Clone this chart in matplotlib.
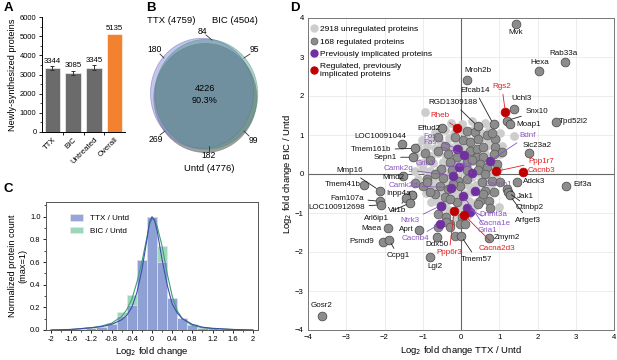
import numpy as np
import matplotlib
matplotlib.use("Agg")
import matplotlib.pyplot as plt
from matplotlib.patches import Ellipse
from matplotlib.lines import Line2D
from matplotlib.ticker import MultipleLocator, FuncFormatter

plt.rcParams['font.family'] = ['Liberation Sans', 'DejaVu Sans']
plt.rcParams['axes.linewidth'] = 0.7

# ====== Panel A data ======
a_groups = ["TTX", "BIC", "Untreated", "Overall"]
a_counts = [3344, 3085, 3345, 5135]
a_err = [110, 120, 130, 0]

# ====== Panel B data (Venn counts) ======
venn_sets = ["TTX (4759)", "BIC (4504)", "Untd (4776)"]
venn_counts = {"ttx_bic": 84, "ttx_only": 180, "bic_only": 95, "all": 4226,
               "ttx_untd": 269, "bic_untd": 99, "untd_only": 182}
venn_pct = 90.3

# ====== Panel C data ======
bin_centers = [-1.6, -1.4, -1.2, -1.0, -0.8, -0.6, -0.4, -0.2, 0.0, 0.2, 0.4, 0.6, 0.8, 1.0, 1.2, 1.4]
ttx_hist = [0.005, 0.01, 0.02, 0.03, 0.05, 0.12, 0.22, 0.62, 1.0, 0.60, 0.28, 0.11, 0.04, 0.02, 0.015, 0.005]
bic_hist = [0.005, 0.01, 0.025, 0.035, 0.065, 0.155, 0.31, 0.62, 1.0, 0.745, 0.27, 0.10, 0.05, 0.02, 0.012, 0.004]
curve_x = [-2.0, -1.6, -1.2, -1.0, -0.8, -0.6, -0.5, -0.4, -0.3, -0.2, -0.1, -0.05, 0.0,
           0.05, 0.1, 0.2, 0.3, 0.4, 0.5, 0.6, 0.8, 1.0, 1.2, 1.6, 2.0]
ttx_curve = [0.0, 0.005, 0.02, 0.03, 0.05, 0.09, 0.13, 0.2, 0.33, 0.53, 0.80, 0.95, 1.0,
             0.97, 0.88, 0.62, 0.40, 0.23, 0.15, 0.10, 0.05, 0.025, 0.015, 0.005, 0.0]
bic_curve = [0.0, 0.005, 0.02, 0.035, 0.06, 0.12, 0.18, 0.27, 0.42, 0.60, 0.82, 0.93, 0.98,
             0.97, 0.92, 0.74, 0.50, 0.30, 0.17, 0.10, 0.04, 0.02, 0.012, 0.004, 0.0]

# ====== Panel D data ======
unreg_x = [-0.25, 0.02, 0.28, 0.62, -0.95, 1.39, 1.0,
           -0.68, -0.42, -0.18, 0.05, 0.31, 0.52, 0.74, 1.02,
           -1.02, -0.78, -0.58, -0.31, -0.12, 0.12, 0.33, 0.55, 0.72, 0.92,
           -1.12, -0.88, -0.69, -0.49, -0.28, -0.09, 0.11, 0.29, 0.51, 0.69, 0.88, 1.08,
           -1.21, -0.98, -0.79, -0.61, -0.38, -0.19, 0.02, 0.21, 0.39, 0.62, 0.81, 1.01,
           -1.08, -0.91, -0.72, -0.48, -0.31, -0.08, 0.12, 0.31, 0.48, 0.71, 0.89,
           -1.19, -0.99, -0.82, -0.58, -0.41, -0.18, 0.03, 0.19, 0.42, 0.58, 0.79, 0.98,
           -1.12, -0.88, -0.71, -0.52, -0.28, -0.11, 0.12, 0.28, 0.51, 0.68, 0.91,
           -1.02, -0.78, -0.62, -0.38, -0.21, 0.02, 0.21, 0.38, 0.62, 0.78,
           -0.92, -0.68, -0.52, -0.28, -0.12, 0.11, 0.28, 0.51, 0.69,
           -0.78, -0.62, -0.38, -0.18, 0.02, 0.22, 0.41,
           -0.52, -0.31, -0.08, 0.12, 0.31,
           -0.41, -0.12, 0.18]
unreg_y = [1.32, 1.28, 1.35, 1.30, 1.58, 0.98, -0.84,
           1.08, 1.12, 1.05, 1.10, 1.14, 1.06, 1.12, 1.04,
           0.88, 0.92, 0.86, 0.93, 0.88, 0.95, 0.87, 0.93, 0.85, 0.90,
           0.68, 0.72, 0.66, 0.74, 0.68, 0.71, 0.66, 0.73, 0.67, 0.72, 0.65, 0.71,
           0.48, 0.52, 0.46, 0.53, 0.47, 0.52, 0.46, 0.54, 0.48, 0.51, 0.45, 0.52,
           0.28, 0.33, 0.27, 0.32, 0.26, 0.31, 0.27, 0.33, 0.28, 0.31, 0.26,
           0.08, 0.12, 0.07, 0.11, 0.06, 0.12, 0.07, 0.12, 0.06, 0.11, 0.08, 0.12,
           -0.12, -0.08, -0.13, -0.07, -0.12, -0.08, -0.11, -0.07, -0.12, -0.08, -0.11,
           -0.31, -0.28, -0.33, -0.27, -0.32, -0.28, -0.31, -0.27, -0.32, -0.28,
           -0.48, -0.52, -0.47, -0.53, -0.48, -0.52, -0.47, -0.52, -0.49,
           -0.71, -0.68, -0.72, -0.67, -0.72, -0.68, -0.71,
           -0.88, -0.92, -0.88, -0.91, -0.87,
           -1.08, -1.12, -1.06]

reg_x = [0.15, 0.37, 0.06, 0.24, 0.45, 0.67, 0.89, -0.07, 0.24, 0.41, 0.58, 0.89, 1.06,
         -0.42, -0.59, -0.33, -0.11, 0.41, 0.58, 0.85, -0.29, 0.15, 0.50, 0.67, 0.93,
         -0.51, -0.24, 0.15, 0.45, 0.63, -0.68, -0.46, -0.07, 0.15, 0.54, 0.80, 1.02,
         -0.55, -0.33, -0.03, 0.63, 0.85, -0.68, -0.42, -0.11, 0.50, 0.72, -0.51, 0.02,
         -0.90, -0.99, -0.81, -1.20, -0.90, -0.29, -0.59, -0.38, -0.29, -0.59, -0.03,
         0.10, -0.16, -0.38, -0.29, 0.58, 0.76, 0.45, -0.20, -0.80, -0.95, 0.30, -0.15,
         -0.60, 0.80, -1.28]
reg_y = [1.11, 1.07, 0.86, 0.81, 0.90, 0.99, 0.90, 0.64, 0.60, 0.64, 0.69, 0.69, 0.56,
         0.73, 0.60, 0.51, 0.43, 0.43, 0.43, 0.51, 0.30, 0.30, 0.26, 0.17, 0.26,
         0.13, 0.09, 0.09, 0.09, 0.0, 0.0, -0.09, -0.17, -0.13, -0.21, -0.17, -0.21,
         -0.30, -0.39, -0.30, -0.43, -0.47, -0.51, -0.60, -0.73, -0.69, -0.69, -0.81, -1.11,
         -0.13, -0.30, -0.47, -0.24, -0.21, -0.64, -1.03, -1.11, -1.29, -1.37, -1.29,
         -1.29, -1.59, -1.24, -1.37, -0.51, -0.86, -0.77, -0.26, 0.35, 0.55, 0.35, 0.95,
         0.95, 1.05, -0.55]

# labelled proteins: kind 0 = regulated, 1 = previously implicated, 2 = regulated & implicated
gene_names = ["Mvk", "Rab33a", "Hexa", "Mroh2b", "Efcab14", "Rgs2", "Uchl3", "Snx10", "Moap1",
              "Tpd52l2", "RGD1309188", "Rheb", "Eftud2", "LOC10091044", "Tmem161b", "Sepn1",
              "Fos", "Fas", "Grin1", "Ntrk2", "Camk2g", "Mmd2", "Mmp16", "Camk2d", "Tmem41b",
              "Inpp4a", "Fam107a", "LOC100912698", "Vti1b", "Arl6ip1", "Maea", "Ntrk3", "Aprt",
              "Cacnb4", "Psmd9", "Ccpg1", "Ddx50", "Lgi2", "Ppp6r3", "Tmem57", "Cacna2d3",
              "Zmym2", "Gria1", "Cacna1e", "Dnmt3a", "Cacnb1", "Adck3", "Eif3a", "Jak1",
              "Cttnbp2", "Arfgef3", "Bdnf", "Slc23a2", "Ppp1r7", "Cacnb3", "Gosr2"]
gene_x = [1.44, 2.72, 2.05, 0.15, 0.85, 1.16, 1.39, 1.20, 1.28,
          2.48, 0.44, -0.11, -0.49, -1.55, -1.20, -1.25,
          -0.11, 0.08, -0.05, 0.28, -0.20, -1.52, -2.12, -0.25, -2.53,
          -1.28, -2.12, -2.09, -1.45, -1.33, -1.90, -0.53, -1.09,
          -0.55, -2.05, -1.88, -0.64, -0.81, -0.18, 0.0, 0.08,
          0.72, 0.06, 0.15, 0.24, 0.37, 1.46, 2.74, 1.20,
          1.23, 1.27, 0.76, 1.79, 0.92, 1.63, -3.63]
gene_y = [3.84, 2.87, 2.63, 2.42, 1.27, 1.58, 1.67, 1.37, 1.27,
          1.33, 1.22, 1.18, 1.17, 0.77, 0.66, 0.43,
          0.64, 0.49, 0.17, 0.03, -0.05, -0.04, -0.43, -0.35, -0.28,
          -0.55, -0.70, -0.79, -0.62, -0.74, -1.39, -0.81, -1.43,
          -1.28, -1.74, -1.69, -1.61, -2.14, -0.96, -1.59, -1.05,
          -1.63, -0.56, -0.86, -0.97, -0.43, -0.20, -0.30, -0.39,
          -0.47, -0.55, 0.34, 0.54, 0.07, 0.06, -3.64]
gene_kind = [0, 0, 0, 0, 0, 2, 0, 0, 0,
             0, 0, 2, 0, 0, 0, 0,
             1, 1, 1, 1, 1, 0, 0, 1, 0,
             0, 0, 0, 0, 0, 0, 1, 0,
             1, 0, 0, 0, 0, 2, 0, 2,
             0, 1, 1, 1, 1, 0, 0, 0,
             0, 0, 1, 0, 2, 2, 0]

# label layout (text position, leader line yes/no)
label_pos = {
    "Mvk": (1.44, 3.62, 0), "Rab33a": (2.68, 3.10, 0), "Hexa": (2.05, 2.86, 0),
    "Mroh2b": (0.43, 2.65, 0), "Efcab14": (0.37, 2.14, 1), "Rgs2": (1.07, 2.24, 1),
    "Uchl3": (1.59, 1.93, 0), "Snx10": (1.98, 1.60, 1), "Moap1": (1.76, 1.27, 0),
    "Tpd52l2": (2.95, 1.35, 0), "RGD1309188": (-0.20, 1.83, 1), "Rheb": (-0.55, 1.50, 1),
    "Eftud2": (-0.85, 1.17, 0), "LOC10091044": (-2.12, 0.97, 0), "Tmem161b": (-2.36, 0.62, 1),
    "Sepn1": (-1.99, 0.43, 1), "Fos": (-0.81, 0.97, 1), "Fas": (-0.81, 0.80, 1),
    "Grin1": (-0.92, 0.27, 1), "Ntrk2": (0.06, 0.21, 1), "Camk2g": (-1.64, 0.14, 1),
    "Mmd2": (-1.77, -0.10, 0), "Mmp16": (-2.90, 0.08, 1), "Camk2d": (-1.51, -0.30, 1),
    "Tmem41b": (-3.08, -0.28, 0), "Inpp4a": (-1.64, -0.51, 0), "Fam107a": (-2.98, -0.62, 1),
    "LOC100912698": (-3.25, -0.87, 1), "Vti1b": (-1.68, -0.94, 1), "Arl6ip1": (-2.21, -1.13, 1),
    "Maea": (-2.34, -1.39, 0), "Ntrk3": (-1.34, -1.20, 1), "Aprt": (-1.42, -1.43, 0),
    "Cacnb4": (-1.20, -1.65, 1), "Psmd9": (-2.60, -1.73, 0), "Ccpg1": (-1.64, -2.10, 1),
    "Ddx50": (-0.62, -1.80, 0), "Lgi2": (-0.68, -2.38, 0), "Ppp6r3": (-0.31, -2.02, 1),
    "Tmem57": (0.41, -2.19, 1), "Cacna2d3": (0.95, -1.90, 1), "Zmym2": (1.20, -1.63, 0),
    "Gria1": (0.70, -1.46, 1), "Cacna1e": (0.89, -1.26, 1), "Dnmt3a": (0.85, -1.05, 1),
    "Cacnb1": (0.98, -0.26, 1), "Adck3": (1.90, -0.19, 0), "Eif3a": (3.18, -0.28, 0),
    "Jak1": (1.68, -0.58, 1), "Cttnbp2": (1.79, -0.87, 1), "Arfgef3": (1.76, -1.18, 1),
    "Bdnf": (1.74, 0.98, 1), "Slc23a2": (1.98, 0.74, 0), "Ppp1r7": (2.09, 0.32, 1),
    "Cacnb3": (2.11, 0.10, 1), "Gosr2": (-3.65, -3.37, 0),
}

light_c = "#cdcdcd"
dark_c = "#8c8c8c"
purple_c = "#7030a0"
red_c = "#c00000"
text_c = ["#111111", "#8a55c0", "#e02020"]
dot_c = [dark_c, purple_c, red_c]

fig = plt.figure(figsize=(6.17, 3.6), dpi=100)
W, H = 617, 360


def frac(l, t, r, b):
    return [l / W, 1 - b / H, (r - l) / W, (b - t) / H]


# ====== A ======
axA = fig.add_axes(frac(42, 17, 125, 132))
xs = np.arange(len(a_groups))
colors = ["#6b6b6b"] * 3 + ["#f28230"]
axA.bar(xs, a_counts, width=0.74, color=colors, edgecolor="white", linewidth=0.4)
axA.errorbar(xs[:3], a_counts[:3], yerr=a_err[:3], fmt="none", ecolor="#333333",
             elinewidth=0.7, capsize=1.5, capthick=0.7)
for i, v in enumerate(a_counts):
    axA.text(xs[i], v + a_err[i] + 60, str(v), ha="center", va="bottom", fontsize=5.6)
axA.set_xlim(-0.5, 3.5)
axA.set_ylim(0, 6000)
axA.yaxis.set_major_locator(MultipleLocator(1000))
axA.yaxis.set_minor_locator(MultipleLocator(500))
axA.set_xticks(xs)
axA.set_xticklabels(a_groups, rotation=45, ha="right", rotation_mode="anchor", fontsize=5.6)
axA.set_xticks([0.5, 1.5, 2.5], minor=True)
axA.tick_params(axis="x", which="major", length=0, pad=3)
axA.tick_params(axis="x", which="minor", length=2.5, width=0.6)
axA.tick_params(axis="y", labelsize=5.4, length=2.5, width=0.6, pad=1.5)
axA.tick_params(axis="y", which="minor", length=1.5, width=0.5)
axA.spines["top"].set_visible(False)
axA.spines["right"].set_visible(False)
axA.set_ylabel("Newly-synthesized proteins", fontsize=6.6, labelpad=2)

# ====== B ======
axB = fig.add_axes(frac(135, 10, 275, 178))
axB.set_xlim(135, 275)
axB.set_ylim(178, 10)
axB.axis("off")
axB.add_patch(Ellipse((205.3, 98), 103, 109, facecolor="#606060", alpha=0.6,
                      edgecolor="#777777", lw=0.6))
axB.add_patch(Ellipse((202, 93.3), 103, 110, facecolor="#8c8cd8", alpha=0.5,
                      edgecolor="#6a6ac0", lw=0.6))
axB.add_patch(Ellipse((206.3, 94.3), 103, 110, facecolor="#3a8a78", alpha=0.4,
                      edgecolor="#2f8f78", lw=0.6))
axB.text(171.7, 20.7, venn_sets[0], ha="center", va="center", fontsize=6.8)
axB.text(235, 20.7, venn_sets[1], ha="center", va="center", fontsize=6.8)
axB.text(209, 168.5, venn_sets[2], ha="center", va="center", fontsize=6.8)
fs_b = 6.2
axB.text(202.7, 32, str(venn_counts["ttx_bic"]), ha="center", va="center", fontsize=fs_b)
axB.text(155, 49.3, str(venn_counts["ttx_only"]), ha="center", va="center", fontsize=fs_b)
axB.text(254, 50, str(venn_counts["bic_only"]), ha="center", va="center", fontsize=fs_b)
axB.text(205, 94.5, f"{venn_counts['all']}\n{venn_pct}%", ha="center", va="center",
         fontsize=6.6, linespacing=1.3)
axB.text(156, 140, str(venn_counts["ttx_untd"]), ha="center", va="center", fontsize=fs_b)
axB.text(253.3, 140.7, str(venn_counts["bic_untd"]), ha="center", va="center", fontsize=fs_b)
axB.text(209, 156, str(venn_counts["untd_only"]), ha="center", va="center", fontsize=fs_b)
for (x0, y0, x1, y1) in [(206, 35, 212, 40), (160, 54, 164, 58), (250, 54, 244, 58),
                         (160, 135, 165, 131), (249, 136, 244, 131), (209, 151, 209, 146)]:
    axB.plot([x0, x1], [y0, y1], color="#333333", lw=0.6)

# ====== C ======
axC = fig.add_axes(frac(46, 202, 258, 330))
bw = 0.2
axC.bar(bin_centers, bic_hist, width=bw, color="#92d2b4", edgecolor="#e8e8e8",
        linewidth=0.5, alpha=0.9, label="BIC / Untd")
axC.bar(bin_centers, ttx_hist, width=bw, color="#8e9ad8", edgecolor="#e8e8e8",
        linewidth=0.5, alpha=0.9, label="TTX / Untd")
axC.plot(curve_x, bic_curve, color="#3c9f78", lw=0.8)
axC.plot(curve_x, ttx_curve, color="#3e4ea8", lw=0.8)
axC.set_xlim(-2.1, 2.1)
axC.set_ylim(0, 1.13)
axC.xaxis.set_major_locator(MultipleLocator(0.4))
axC.xaxis.set_minor_locator(MultipleLocator(0.2))
axC.yaxis.set_major_locator(MultipleLocator(0.2))
axC.yaxis.set_minor_locator(MultipleLocator(0.1))
axC.xaxis.set_major_formatter(FuncFormatter(lambda v, p: f"{v:g}" if abs(v) > 1e-9 else "0"))
axC.yaxis.set_major_formatter(FuncFormatter(lambda v, p: f"{v:.1f}"))
axC.tick_params(labelsize=5.4, length=2.5, width=0.6, pad=1.5)
axC.tick_params(which="minor", length=1.5, width=0.5)
for s in axC.spines.values():
    s.set_color("#555555")
axC.set_xlabel("Log$_2$ fold change", fontsize=6.8, labelpad=2)
axC.set_ylabel("Normalized protein count\n(max=1)", fontsize=6.6, labelpad=2, linespacing=1.1)
hC, lC = axC.get_legend_handles_labels()
axC.legend(hC[::-1], lC[::-1], loc="upper left", bbox_to_anchor=(0.08, 0.96), frameon=False,
           fontsize=5.8, handlelength=1.6, handleheight=0.9, labelspacing=0.5)

# ====== D ======
axD = fig.add_axes(frac(308, 18, 614, 330))
axD.set_xlim(-4, 4)
axD.set_ylim(-4, 4)
axD.set_xticks(range(-4, 5))
axD.set_yticks(range(-4, 5))
axD.grid(True, color="#e6e6e6", lw=0.5)
axD.set_axisbelow(True)
axD.axhline(0, color="#666666", lw=0.8, zorder=1)
axD.axvline(0, color="#666666", lw=0.8, zorder=1)
for s in axD.spines.values():
    s.set_color("#777777")
axD.tick_params(labelsize=5.6, length=0, pad=3)
axD.set_xlabel("Log$_2$ fold change TTX / Untd", fontsize=6.8, labelpad=2)
axD.set_ylabel("Log$_2$ fold change BIC / Untd", fontsize=6.8, labelpad=1)

ms = 40
axD.scatter(unreg_x, unreg_y, s=ms, color=light_c, linewidths=0, zorder=2)
axD.scatter(reg_x, reg_y, s=ms, facecolor=dark_c, edgecolor="#5a5a5a", linewidths=0.5, zorder=3)
for k in (0, 1, 2):
    gx = [x for x, kk in zip(gene_x, gene_kind) if kk == k]
    gy = [y for y, kk in zip(gene_y, gene_kind) if kk == k]
    axD.scatter(gx, gy, s=ms, facecolor=dot_c[k], edgecolor="#444444" if k == 0 else dot_c[k],
                linewidths=0.5, zorder=4 + k)

for name, x, y, k in zip(gene_names, gene_x, gene_y, gene_kind):
    lx, ly, line = label_pos[name]
    c = text_c[k]
    if line:
        axD.annotate(name, xy=(x, y), xytext=(lx, ly), ha="center", va="center",
                     fontsize=5.8, color=c, zorder=8,
                     arrowprops=dict(arrowstyle="-", color=c if k else "#222222", lw=0.6,
                                     shrinkA=1, shrinkB=3))
    else:
        axD.text(lx, ly, name, ha="center", va="center", fontsize=5.8, color=c, zorder=8)

handles = [
    Line2D([], [], ls="", marker="o", ms=5, mfc=light_c, mec=light_c),
    Line2D([], [], ls="", marker="o", ms=5, mfc=dark_c, mec="#5a5a5a", mew=0.5),
    Line2D([], [], ls="", marker="o", ms=5, mfc=purple_c, mec=purple_c),
    Line2D([], [], ls="", marker="o", ms=5, mfc=red_c, mec=red_c),
]
labels = ["2918 unregulated proteins", "168 regulated proteins",
          "Previously implicated proteins", "Regulated, previously\nimplicated proteins"]
axD.legend(handles, labels, loc="upper left", bbox_to_anchor=(-0.01, 0.995), frameon=False,
           fontsize=6.0, handlelength=0.8, handletextpad=0.3, labelspacing=0.55,
           borderaxespad=0.3)

# ====== panel letters ======
for letter, (px, py) in {"A": (4, 2), "B": (146, 2), "C": (4, 183), "D": (290, 2)}.items():
    fig.text(px / W, 1 - py / H, letter, fontsize=9.5, fontweight="bold", va="top", ha="left")

fig.savefig("out.png", dpi=100)
